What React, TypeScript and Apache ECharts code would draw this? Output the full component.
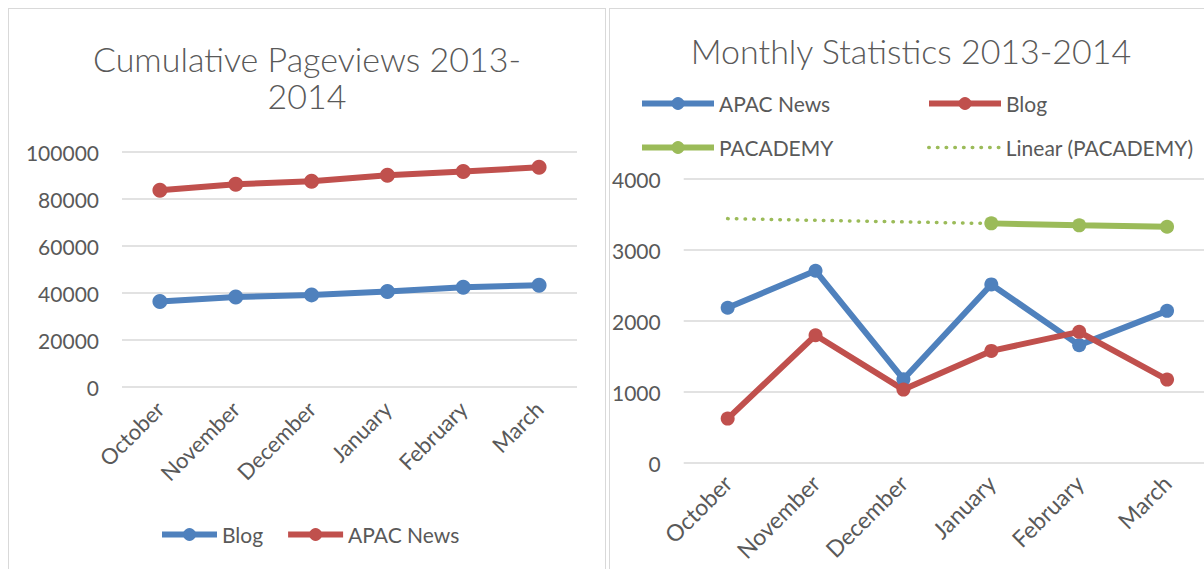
import React, { useEffect, useRef } from "react";
import * as echarts from "echarts";

const months = ["October", "November", "December", "January", "February", "March"];

// Left chart: cumulative pageviews
const cumBlog = [36400, 38300, 39200, 40600, 42400, 43300];
const cumApac = [83700, 86300, 87600, 90100, 91700, 93500];
const cumTicks = { min: 0, max: 100000, interval: 20000 };

// Right chart: monthly statistics
const monApac = [2186, 2707, 1180, 2515, 1660, 2143];
const monBlog = [625, 1800, 1034, 1579, 1847, 1175];
const monPac = [null, null, null, 3375, 3347, 3328];
const monPacTrend = [3442, 3418, 3396, 3373, 3350, 3327];
const monTicks = { min: 0, max: 4000, interval: 1000 };

const BLUE = "#4F81BD";
const RED = "#C0504D";
const GREEN = "#9BBB59";
const TXT = "#595959";
const GRID = "#D9D9D9";
const FONT = "Lato, 'Open Sans', sans-serif";

function lineSeries(name: string, data: (number | null)[], color: string, size: number) {
  return {
    name,
    type: "line",
    data,
    symbol: "circle",
    symbolSize: size,
    itemStyle: { color },
    lineStyle: { color, width: 6 },
    connectNulls: false,
  };
}

const plain = (v: number) => String(v);

function leftOption() {
  return {
    animation: false,
    textStyle: { fontFamily: FONT },
    title: {
      text: "Cumulative Pageviews 2013-\n2014",
      left: "center",
      top: 27,
      textStyle: { fontFamily: FONT, fontSize: 34, fontWeight: 300, color: TXT, lineHeight: 37 },
    },
    legend: {
      left: 146,
      top: 511,
      itemWidth: 55,
      itemHeight: 16,
      itemGap: 22,
      lineStyle: { width: 6 },
      textStyle: { fontFamily: FONT, fontSize: 21, color: TXT },
      data: ["Blog", "APAC News"],
    },
    grid: { left: 114, top: 144, width: 455, height: 235 },
    xAxis: {
      type: "category",
      data: months,
      boundaryGap: true,
      axisLine: { show: false },
      axisTick: { show: false },
      axisLabel: { rotate: 45, fontSize: 22, color: TXT, fontFamily: FONT, margin: 18, interval: 0 },
    },
    yAxis: {
      type: "value",
      ...cumTicks,
      axisLine: { show: false },
      axisTick: { show: false },
      axisLabel: { fontSize: 21, color: TXT, fontFamily: FONT, margin: 23, formatter: plain },
      splitLine: { lineStyle: { color: GRID, width: 1.5 } },
    },
    series: [lineSeries("Blog", cumBlog, BLUE, 15), lineSeries("APAC News", cumApac, RED, 15)],
  };
}

function rightOption() {
  const legendBase = {
    itemWidth: 72,
    itemHeight: 16,
    lineStyle: { width: 6 },
    textStyle: { fontFamily: FONT, fontSize: 21, color: TXT },
  };
  return {
    animation: false,
    textStyle: { fontFamily: FONT },
    title: {
      text: "Monthly Statistics 2013-2014",
      left: "center",
      top: 20,
      textStyle: { fontFamily: FONT, fontSize: 34, fontWeight: 300, color: TXT },
    },
    legend: [
      { ...legendBase, left: 25, top: 80, data: ["APAC News"] },
      { ...legendBase, left: 312, top: 80, data: ["Blog"] },
      { ...legendBase, left: 25, top: 124, data: ["PACADEMY"] },
      {
        ...legendBase,
        left: 313,
        top: 124,
        data: [
          {
            name: "Linear (PACADEMY)",
            itemStyle: { opacity: 0 },
            lineStyle: { width: 3.5 },
          },
        ],
      },
    ],
    grid: { left: 74, top: 171, width: 528, height: 284 },
    xAxis: {
      type: "category",
      data: months,
      boundaryGap: true,
      axisLine: { show: false },
      axisTick: { show: false },
      axisLabel: { rotate: 45, fontSize: 23, color: TXT, fontFamily: FONT, margin: 16, interval: 0 },
    },
    yAxis: {
      type: "value",
      ...monTicks,
      axisLine: { show: false },
      axisTick: { show: false },
      axisLabel: { fontSize: 21, color: TXT, fontFamily: FONT, margin: 23, formatter: plain },
      splitLine: { lineStyle: { color: GRID, width: 1.5 } },
    },
    series: [
      lineSeries("APAC News", monApac, BLUE, 14),
      lineSeries("Blog", monBlog, RED, 14),
      {
        name: "Linear (PACADEMY)",
        type: "line",
        data: monPacTrend,
        symbol: "none",
        itemStyle: { color: GREEN },
        lineStyle: { color: GREEN, width: 3.5, type: [0.5, 8.2], cap: "round" },
      },
      lineSeries("PACADEMY", monPac, GREEN, 14),
    ],
  };
}

function Chart({ option, style }: { option: any; style: React.CSSProperties }) {
  const ref = useRef<HTMLDivElement>(null);
  useEffect(() => {
    if (!ref.current) return;
    const chart = echarts.init(ref.current, null, { renderer: "svg" });
    chart.setOption(option);
    return () => chart.dispose();
  }, [option]);
  return <div ref={ref} style={style} />;
}

const LEFT_OPT = leftOption();
const RIGHT_OPT = rightOption();

export default function App() {
  return (
    <div
      style={{
        position: "fixed",
        left: 0,
        top: 0,
        width: 1204,
        height: 569,
        overflow: "hidden",
        background: "#fff",
      }}
    >
      <div
        style={{
          position: "absolute",
          left: 8,
          top: 8,
          width: 598,
          height: 600,
          boxShadow: "inset 0 0 0 1px #D9D9D9",
        }}
      >
        <Chart option={LEFT_OPT} style={{ width: 598, height: 600 }} />
      </div>
      <div
        style={{
          position: "absolute",
          left: 609,
          top: 8,
          width: 604,
          height: 600,
          boxShadow: "inset 0 0 0 1px #D9D9D9",
        }}
      >
        <Chart option={RIGHT_OPT} style={{ width: 604, height: 600 }} />
      </div>
    </div>
  );
}
